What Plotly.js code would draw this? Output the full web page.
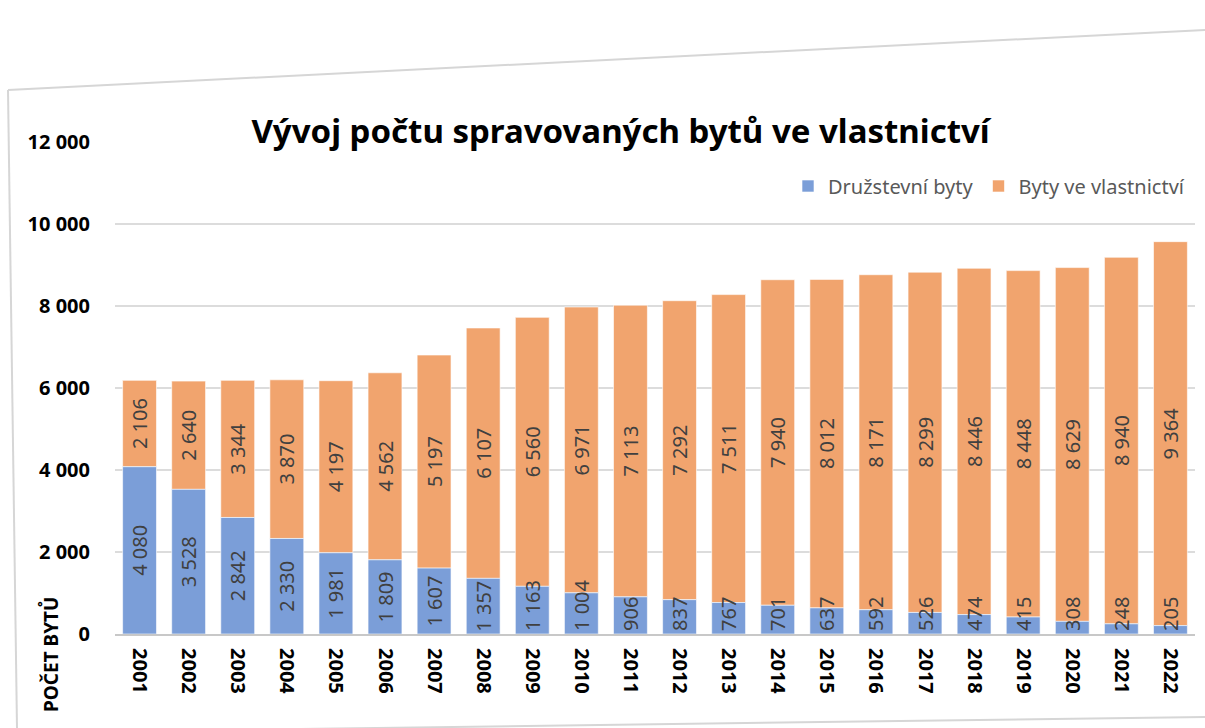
<!DOCTYPE html>
<html>
<head>
<meta charset="utf-8">
<script src="https://cdn.plot.ly/plotly-3.0.1.min.js"></script>
<style>
  html, body { margin: 0; padding: 0; background: #ffffff; }
  #chart { width: 1205px; height: 728px; }
</style>
</head>
<body>
<div id="chart"></div>
<script>
const years = ["2001","2002","2003","2004","2005","2006","2007","2008","2009","2010","2011",
               "2012","2013","2014","2015","2016","2017","2018","2019","2020","2021","2022"];
const druzstevni = [4080, 3528, 2842, 2330, 1981, 1809, 1607, 1357, 1163, 1004, 906,
                    837, 767, 701, 637, 592, 526, 474, 415, 308, 248, 205];
const vlastnictvi = [2106, 2640, 3344, 3870, 4197, 4562, 5197, 6107, 6560, 6971, 7113,
                     7292, 7511, 7940, 8012, 8171, 8299, 8446, 8448, 8629, 8940, 9364];
const seriesNames = ["Družstevní byty", "Byty ve vlastnictví"];
const chartTitle = "Vývoj počtu spravovaných bytů ve vlastnictví";
const yTitle = "POČET BYTŮ";

// labels of short blue bars are pushed up from the base (as Excel does)
const SMALL = 1200;
const druzBig = druzstevni.map(v => v >= SMALL ? v : null);
const druzSmall = druzstevni.map(v => v < SMALL ? v : null);

const FONT = "Noto Sans, Open Sans, sans-serif";
const labelFont = {family: FONT, size: 20, color: "#404040"};
const BLUE = "#7B9ED8", ORANGE = "#F1A46E";
const edge = {color: "rgba(255,255,255,0.6)", width: 1};

const common = {
  type: "bar",
  x: years,
  textposition: "inside",
  insidetextanchor: "middle",
  textangle: -90,
  constraintext: "none",
  cliponaxis: false,
  texttemplate: "%{y:,d}",
  insidetextfont: labelFont,
  textfont: labelFont,
  hoverinfo: "skip"
};

// orange segment sits on top of the blue one (base = blue value);
// it is drawn first so that the blue labels stay visible above it
const traces = [
  Object.assign({}, common, {
    name: seriesNames[1],
    legendrank: 2,
    y: vlastnictvi,
    base: druzstevni,
    marker: {color: ORANGE, line: edge}
  }),
  Object.assign({}, common, {
    name: seriesNames[0],
    legendgroup: "d",
    legendrank: 1,
    y: druzBig,
    marker: {color: BLUE, line: edge}
  }),
  Object.assign({}, common, {
    name: seriesNames[0],
    legendgroup: "d",
    showlegend: false,
    insidetextanchor: "start",
    y: druzSmall,
    marker: {color: BLUE, line: edge}
  })
];

// pixel -> paper helpers (plot area: x 115..1195, y 142..634)
const L = 115, W = 1080, T = 142, H = 492;
const px = v => (v - L) / W;
const py = v => (T + H - v) / H;

const layout = {
  width: 1205,
  height: 728,
  paper_bgcolor: "#ffffff",
  plot_bgcolor: "#ffffff",
  separators: ", ",
  barmode: "overlay",
  bargap: 0.31,
  margin: {l: L, r: 1205 - L - W, t: T, b: 728 - T - H},
  title: {
    text: chartTitle,
    font: {family: FONT, size: 33, color: "#000000", weight: "bold"},
    x: 0.515, xanchor: "center",
    y: 1 - 131 / 728, yanchor: "middle"
  },
  showlegend: true,
  legend: {
    orientation: "h",
    x: px(1190), xanchor: "right",
    y: py(186), yanchor: "middle",
    font: {family: FONT, size: 20, color: "#595959"},
    traceorder: "normal",
    itemwidth: 30,
    bgcolor: "rgba(0,0,0,0)"
  },
  xaxis: {
    type: "category",
    tickangle: 90,
    tickfont: {family: FONT, size: 20, color: "#000000", weight: "bold"},
    showline: true,
    linecolor: "#c8c8c8",
    linewidth: 2,
    showgrid: false,
    ticks: "",
    ticklabelstandoff: 8,
    fixedrange: true
  },
  yaxis: {
    range: [0, 12000],
    dtick: 2000,
    tickformat: ",d",
    tickfont: {family: FONT, size: 20, color: "#000000", weight: "bold"},
    showgrid: true,
    gridcolor: "#dcdcdc",
    gridwidth: 2,
    zeroline: false,
    showline: false,
    ticks: "",
    ticklabelstandoff: 24,
    fixedrange: true
  },
  annotations: [{
    text: yTitle,
    xref: "paper", yref: "paper",
    x: px(50), y: py(655),
    xanchor: "center", yanchor: "middle",
    textangle: -90,
    showarrow: false,
    font: {family: FONT, size: 19, color: "#000000", weight: "bold"}
  }],
  shapes: [
    {type: "line", xref: "paper", yref: "paper",
     x0: px(8), y0: py(90), x1: px(1205), y1: py(30),
     line: {color: "#d6d6d6", width: 2}},
    {type: "line", xref: "paper", yref: "paper",
     x0: px(8), y0: py(90), x1: px(17), y1: py(728),
     line: {color: "#d6d6d6", width: 2}},
    {type: "line", xref: "paper", yref: "paper",
     x0: px(300), y0: py(729), x1: px(1205), y1: py(717),
     line: {color: "#d6d6d6", width: 2}}
  ]
};

Plotly.newPlot("chart", traces, layout, {staticPlot: true, displayModeBar: false});
</script>
</body>
</html>
